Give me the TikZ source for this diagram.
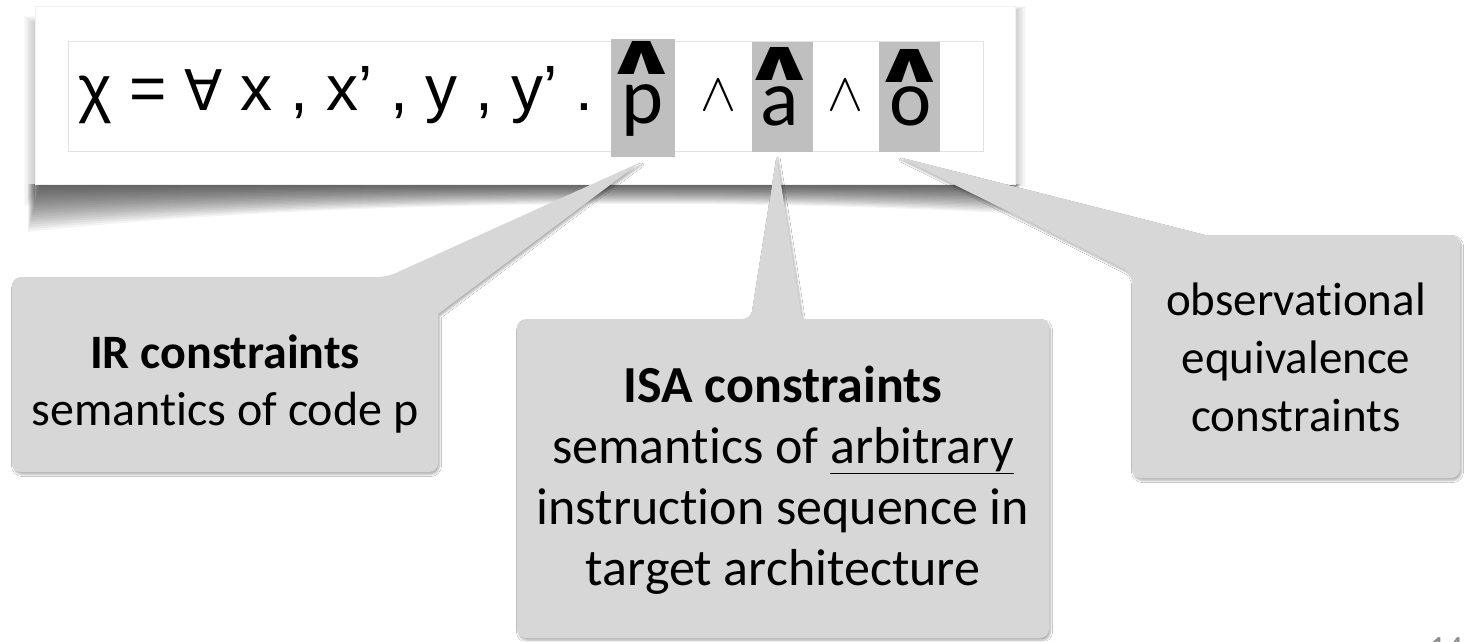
\documentclass[tikz,border=0pt]{standalone}
\usepackage{fontspec}
\setmainfont{Carlito}[Ligatures=CommonOff]
\newfontfamily\arialf{Liberation Sans}
\newfontfamily\dejaf{DejaVu Sans}
\usetikzlibrary{calc,shadows.blur}
\definecolor{hlgray}{RGB}{191,191,191}
\definecolor{cgray}{RGB}{215,215,215}
\definecolor{boxline}{RGB}{226,226,226}
\begin{document}
\begin{tikzpicture}[x=1pt,y=-1pt,
  hl/.style={rectangle, fill=hlgray, inner sep=0pt, anchor=north west},
  callout/.style={fill=cgray, blur shadow={shadow xshift=1.5pt, shadow yshift=-2.5pt, shadow opacity=30, shadow blur steps=6, shadow blur radius=2pt}},
  ctext/.style={align=center, inner sep=0pt, anchor=north},
  hatf/.style={font=\dejaf\bfseries\fontsize{57}{57}\selectfont, inner sep=0pt},
  letf/.style={font=\fontsize{80}{80}\selectfont, inner sep=0pt, anchor=base},
  andf/.style={inner sep=0pt}
]
\useasboundingbox (0,0) rectangle (1468,641);
\fill[white] (0,0) rectangle (1468,641);

% curved shadow under the frame
\foreach \k in {1,...,20}
  \fill[black,opacity=0.045] ({40-12*\k/20},184) -- ({1010+10*\k/20},184) -- ({1010+10*\k/20},{184+30*\k/20})
     .. controls (700,{184+12*\k/20}) and (300,{184+18*\k/20}) .. ({40-12*\k/20},{184+48*\k/20}) -- cycle;
% side shadows
\foreach \k in {1,...,8} {
  \fill[black,opacity=0.022] ({35-1.4*\k},{24-\k}) rectangle (35,{190+2*\k});
  \fill[black,opacity=0.022] (1015,{10-0.5*\k}) rectangle ({1015+1.4*\k},186);
}

% frame and formula box
\node[fill=white, draw=black!6, line width=0.6pt, inner sep=0pt, minimum width=980pt, minimum height=178pt, anchor=north west] (frame) at (35,6) {};
\node[draw=boxline, line width=1.2pt, inner sep=0pt, minimum width=915pt, minimum height=110pt, anchor=north west] (fbox) at (68,41) {};

\node[anchor=base west, inner sep=0pt, font=\arialf\fontsize{64}{64}\selectfont] (formula) at (78,110)
  {χ = {\dejaf\fontsize{56}{56}\selectfont ∀} x , x’ , y , y’ .};

% highlighted terms
\node[hl, minimum width=64pt, minimum height=118pt] (hp) at (611,39) {};
\node[hl, minimum width=61pt, minimum height=110pt] (ha) at (752,42) {};
\node[hl, minimum width=61pt, minimum height=110pt] (ho) at (879,42) {};

\node[hatf] (hatp) at (642,58) {\scalebox{1.65}[1.0]{∧}};
\node[letf] (lp) at (643,123) {p};
\node[hatf] (hata) at (780,64) {\scalebox{1.65}[1.0]{∧}};
\node[letf] (la) at (780,125) {a};
\node[hatf] (hato) at (910,66) {\scalebox{1.65}[1.0]{∧}};
\node[letf] (lo) at (911,125) {o};
\node[andf] (and1) at (718,95) {\scalebox{5.4}{$\wedge$}};
\node[andf] (and2) at (845,95) {\scalebox{5.4}{$\wedge$}};

% callout tips
\coordinate (irTip) at ($(hp.south)+(-3,5)$);
\coordinate (isaTip) at ($(ha.south)+(-6,4)$);
\coordinate (obsTip) at ($(ho.south)+(-10,5)$);

% IR callout
\path[callout] (12,374) [rounded corners=9] -- (12,277) -- (387,277) [sharp corners] -- (irTip) -- (438,314) [rounded corners=9] -- (438,472) -- (12,472) -- cycle;
\node[ctext, font=\fontsize{48}{57}\selectfont] (irtxt) at (225,335) {\textbf{IR constraints}\\semantics of code p};

% ISA callout
\path[callout] (517,478) [rounded corners=9] -- (517,319) -- (751,319) [sharp corners] -- (isaTip) -- (802,319) [rounded corners=9] -- (1049,319) -- (1049,638) -- (517,638) -- cycle;
\node[ctext, font=\fontsize{52}{61}\selectfont] (isatxt) at (783,366) {\textbf{ISA constraints}\\semantics of \underline{arbitrary}\\instruction sequence in\\target architecture};

% observational callout
\path[callout] (1300,478) [rounded corners=9] -- (1132,478) -- (1132,273) [sharp corners] -- (obsTip) -- (1205,235) [rounded corners=9] -- (1460,235) -- (1460,478) -- cycle;
\node[ctext, font=\fontsize{47}{58}\selectfont] (obstxt) at (1296,283) {observational\\equivalence\\constraints};

% page number (cut by the lower edge)
\begin{scope}
\clip (0,0) rectangle (1468,641);
\node[anchor=north, inner sep=0pt, text=black!45, font=\fontsize{34}{34}\selectfont] (pg) at (1446,637) {14};
\end{scope}
\end{tikzpicture}
\end{document}
